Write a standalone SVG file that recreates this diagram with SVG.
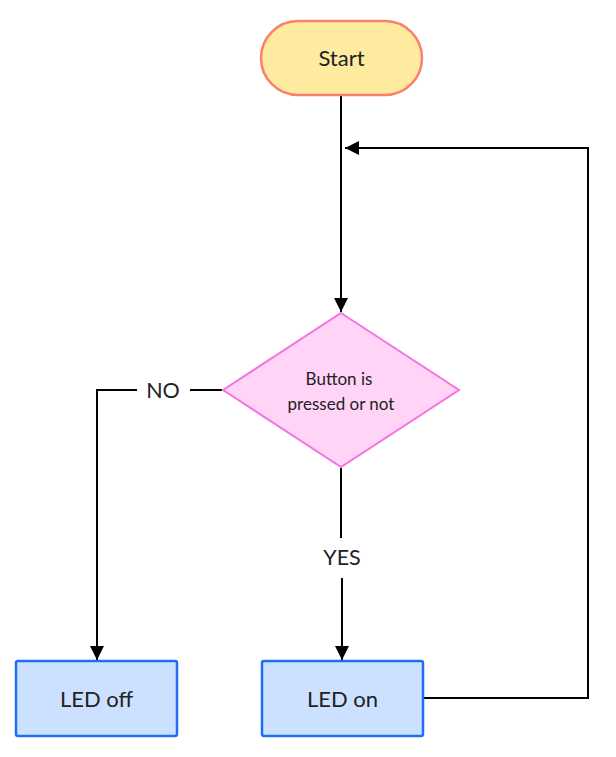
<svg xmlns="http://www.w3.org/2000/svg" width="616" height="757" viewBox="0 0 616 757">
<defs>
<style>
.t{font-family:"Lato","Noto Sans",sans-serif;fill:#222;text-anchor:middle;dominant-baseline:central}
.c{fill:none;stroke:#000;stroke-width:2}
.box{fill:#cce0ff;stroke:#1f6ff5;stroke-width:2.5}
</style>
<marker id="a" viewBox="0 0 10 10" refX="10" refY="5" markerWidth="14" markerHeight="14" markerUnits="userSpaceOnUse" orient="auto">
<path d="M0,0 L10,5 L0,10 Z" fill="#000"/>
</marker>
</defs>
<rect width="616" height="757" fill="#fff"/>
<g id="connectors">
<path class="c" d="M341,96 V312" marker-end="url(#a)"/>
<path class="c" d="M222,390 H190"/>
<path class="c" d="M137,390 H97 V660" marker-end="url(#a)"/>
<path class="c" d="M341,468 V538"/>
<path class="c" d="M342,578 V660" marker-end="url(#a)"/>
<path class="c" d="M424,698 H588 V148 H345" marker-end="url(#a)"/>
<text class="t" x="163" y="390" font-size="21.5">NO</text>
<text class="t" x="342" y="557" font-size="21.5">YES</text>
</g>
<g id="start">
<rect x="261" y="21" width="161" height="74" rx="37" fill="#ffeba0" stroke="#fa806b" stroke-width="2.5"/>
<text class="t" x="341.5" y="57" font-size="22">Start</text>
</g>
<g id="decision">
<polygon points="341,313 459,390 341,467 223,390" fill="#ffd4f7" stroke="#f673e3" stroke-width="2"/>
<text class="t" x="339" y="378" font-size="17">Button is</text>
<text class="t" x="341" y="403" font-size="17">pressed or not</text>
</g>
<g id="led-off">
<rect class="box" x="16" y="661" width="161" height="75" rx="2"/>
<text class="t" x="96.5" y="698" font-size="22">LED off</text>
</g>
<g id="led-on">
<rect class="box" x="262" y="661" width="161" height="75" rx="2"/>
<text class="t" x="342.5" y="698" font-size="22">LED on</text>
</g>
</svg>
